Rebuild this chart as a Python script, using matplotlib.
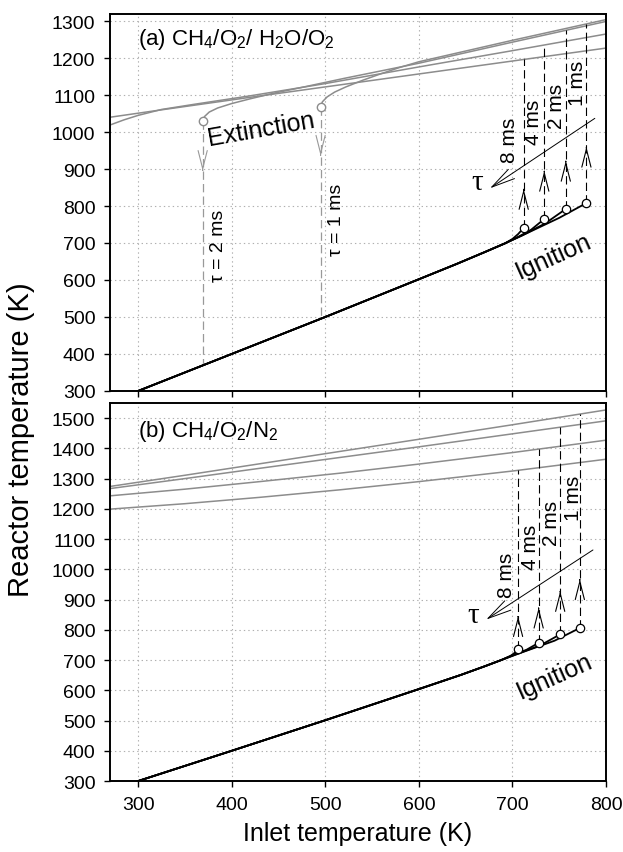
import matplotlib
matplotlib.use('Agg')
import matplotlib.pyplot as plt
import numpy as np

plt.rcParams['font.family'] = ['Liberation Sans', 'DejaVu Sans']
plt.rcParams['mathtext.fontset'] = 'custom'
plt.rcParams['mathtext.rm'] = 'Liberation Sans'
plt.rcParams['mathtext.it'] = 'Liberation Sans:italic'
plt.rcParams['lines.scale_dashes'] = False

# ---------------- data ----------------
taus = ['8 ms', '4 ms', '2 ms', '1 ms']
x_ticks = [300, 400, 500, 600, 700, 800]
y_ticks_a = list(range(300, 1301, 100))
y_ticks_b = list(range(300, 1501, 100))

# Panel (a) CH4/O2/H2O/O2 : lower (ignition) branch, common part
a_low_x = [300, 400, 500, 600, 640, 670, 692]
a_low_y = [300, 400, 500, 602, 643, 675, 699]
# tails of each lower branch up to the ignition turning point
a_tail_x = {'8 ms': [700, 706, 712], '4 ms': [705, 720, 734],
            '2 ms': [710, 735, 757], '1 ms': [715, 750, 779]}
a_tail_y = {'8 ms': [711, 724, 741], '4 ms': [715, 736, 765],
            '2 ms': [720, 753, 792], '1 ms': [726, 768, 808]}
# upper (burning) branches
a_up_x = {'8 ms': [270, 325, 420, 600, 700, 800],
          '4 ms': [270, 285, 300, 325, 360, 420, 500, 600, 700, 800],
          '2 ms': [369, 371, 376, 385, 400, 420, 445, 470, 520, 600, 700, 800],
          '1 ms': [495, 497, 502, 510, 522, 540, 560, 580, 600, 700, 800]}
a_up_y = {'8 ms': [1040, 1060, 1094, 1157, 1192, 1227],
          '4 ms': [1019, 1033, 1045, 1061, 1075, 1098, 1131, 1176, 1220, 1265],
          '2 ms': [1030, 1042, 1054, 1065, 1077, 1090, 1105, 1118, 1145, 1186, 1243, 1299],
          '1 ms': [1069, 1082, 1095, 1108, 1122, 1140, 1158, 1175, 1190, 1248, 1304]}
a_arrow_tip = {'8 ms': 846, '4 ms': 895, '2 ms': 922, '1 ms': 960}
a_lab_x = {'8 ms': 697, '4 ms': 723, '2 ms': 747, '1 ms': 770}
a_lab_y = {'8 ms': 981, '4 ms': 1030, '2 ms': 1071, '1 ms': 1134}
# extinction points (tau = 2 ms and 1 ms)
a_ext_tau = ['2 ms', '1 ms']
a_ext_tip = {'2 ms': 895, '1 ms': 936}
a_ext_lab_x = {'2 ms': 386, '1 ms': 512}
a_ext_lab_y = {'2 ms': 695, '1 ms': 765}

# Panel (b) CH4/O2/N2
b_low_x = [300, 400, 500, 600, 645, 670, 688]
b_low_y = [300, 400, 501, 604, 651, 679, 700]
b_tail_x = {'8 ms': [698, 702, 706], '4 ms': [700, 715, 728],
            '2 ms': [703, 730, 751], '1 ms': [708, 745, 772]}
b_tail_y = {'8 ms': [714, 723, 737], '4 ms': [716, 734, 757],
            '2 ms': [718, 749, 785], '1 ms': [723, 764, 806]}
b_up_x = [270, 350, 430, 516, 600, 700, 800]
b_up_y = {'8 ms': [1199, 1217, 1238, 1263, 1290, 1325, 1364],
          '4 ms': [1243, 1265, 1290, 1318, 1348, 1386, 1427],
          '2 ms': [1267, 1300, 1334, 1370, 1405, 1448, 1491],
          '1 ms': [1274, 1311, 1349, 1390, 1430, 1478, 1527]}
b_arrow_tip = {'8 ms': 845, '4 ms': 873, '2 ms': 928, '1 ms': 967}
b_lab_x = {'8 ms': 694, '4 ms': 719, '2 ms': 742, '1 ms': 765}
b_lab_y = {'8 ms': 983, '4 ms': 1077, '2 ms': 1154, '1 ms': 1237}

GRAY = '#8c8c8c'
DASH = (6, 3)

fig = plt.figure(figsize=(6.23, 8.53), dpi=100)
ax1 = fig.add_axes([0.1766, 0.5405, 0.7962, 0.4423])
ax2 = fig.add_axes([0.1766, 0.0832, 0.7962, 0.4432])


def style(ax, yticks, ylim, labelbottom):
    ax.set_xlim(270, 800)
    ax.set_ylim(*ylim)
    ax.set_xticks(x_ticks)
    ax.set_yticks(yticks)
    ax.set_axisbelow(True)
    ax.grid(True, linestyle=(0, (1, 2.2)), color='#b0b0b0', lw=0.8)
    ax.tick_params(direction='out', length=4.5, width=1.0, labelsize=14,
                   top=False, right=False, labelbottom=labelbottom, pad=6)
    for s in ax.spines.values():
        s.set_linewidth(1.4)


def chevron(ax, x, tip, up, color):
    d = -1 if up else 1
    ax.annotate('', xy=(x, tip), xytext=(x, tip + d * 2),
                arrowprops=dict(arrowstyle='->,head_length=1.3,head_width=0.33',
                                lw=0.8, color=color, shrinkA=0, shrinkB=0))


def ignition(ax, low_x, low_y, tail_x, tail_y, up_x_of, up_y, tips, lab_x, lab_y):
    for t in taus:
        xs = low_x + tail_x[t]
        ys = low_y + tail_y[t]
        ax.plot(xs, ys, color='black', lw=1.3, zorder=3)
        ux = up_x_of(t)
        ax.plot(ux, up_y[t], color=GRAY, lw=1.1, zorder=2)
        x0, y0 = tail_x[t][-1], tail_y[t][-1]
        ytop = np.interp(x0, ux, up_y[t])
        ax.plot([x0, x0], [y0, ytop], color='black', lw=0.8, dashes=DASH, zorder=2)
        chevron(ax, x0, tips[t], True, 'black')
        ax.plot([x0], [y0], 'o', ms=6, mfc='white', mec='black', mew=0.9, zorder=5)
        ax.text(lab_x[t], lab_y[t], t, rotation=90, ha='center', va='center',
                fontsize=15)


# ---------------- panel (a) ----------------
style(ax1, y_ticks_a, (300, 1320), False)
ignition(ax1, a_low_x, a_low_y, a_tail_x, a_tail_y, lambda t: a_up_x[t], a_up_y,
         a_arrow_tip, a_lab_x, a_lab_y)
for t in a_ext_tau:
    xe, ye = a_up_x[t][0], a_up_y[t][0]
    ylow = np.interp(xe, a_low_x, a_low_y)
    ax1.plot([xe, xe], [ye, ylow], color='#999999', lw=0.9, dashes=DASH, zorder=2)
    chevron(ax1, xe, a_ext_tip[t], False, '#999999')
    ax1.plot([xe], [ye], 'o', ms=6, mfc='white', mec=GRAY, mew=1.0, zorder=5)
    ax1.text(a_ext_lab_x[t], a_ext_lab_y[t], 'τ = ' + t, rotation=90,
             ha='center', va='center', fontsize=14)

ax1.annotate('', xy=(676, 848), xytext=(788, 1037),
             arrowprops=dict(arrowstyle='->,head_length=1.7,head_width=0.4',
                             lw=0.7, color='black', shrinkA=0, shrinkB=0))
ax1.text(662, 864, 'τ', fontsize=21, family='Liberation Serif', ha='center', va='center')
ax1.text(431, 1008, 'Extinction', rotation=10, fontsize=18, ha='center', va='center')
ax1.text(744, 666, 'Ignition', rotation=24, fontsize=18, ha='center', va='center')
ax1.text(0.056, 0.935, r'(a) CH$_4$/O$_2$/ H$_2$O/O$_2$', transform=ax1.transAxes,
         fontsize=16, ha='left', va='center')

# ---------------- panel (b) ----------------
style(ax2, y_ticks_b, (300, 1550), True)
ignition(ax2, b_low_x, b_low_y, b_tail_x, b_tail_y, lambda t: b_up_x, b_up_y,
         b_arrow_tip, b_lab_x, b_lab_y)
ax2.annotate('', xy=(672, 834), xytext=(786, 1064),
             arrowprops=dict(arrowstyle='->,head_length=1.7,head_width=0.4',
                             lw=0.7, color='black', shrinkA=0, shrinkB=0))
ax2.text(658, 848, 'τ', fontsize=21, family='Liberation Serif', ha='center', va='center')
ax2.text(745, 647, 'Ignition', rotation=24, fontsize=18, ha='center', va='center')
ax2.text(0.056, 0.927, r'(b) CH$_4$/O$_2$/N$_2$', transform=ax2.transAxes,
         fontsize=16, ha='left', va='center')

ax2.set_xlabel('Inlet temperature (K)', fontsize=18, labelpad=6)
fig.text(0.034, 0.485, 'Reactor temperature (K)', rotation=90, fontsize=21,
         ha='center', va='center')

fig.savefig('out.png', dpi=100)
